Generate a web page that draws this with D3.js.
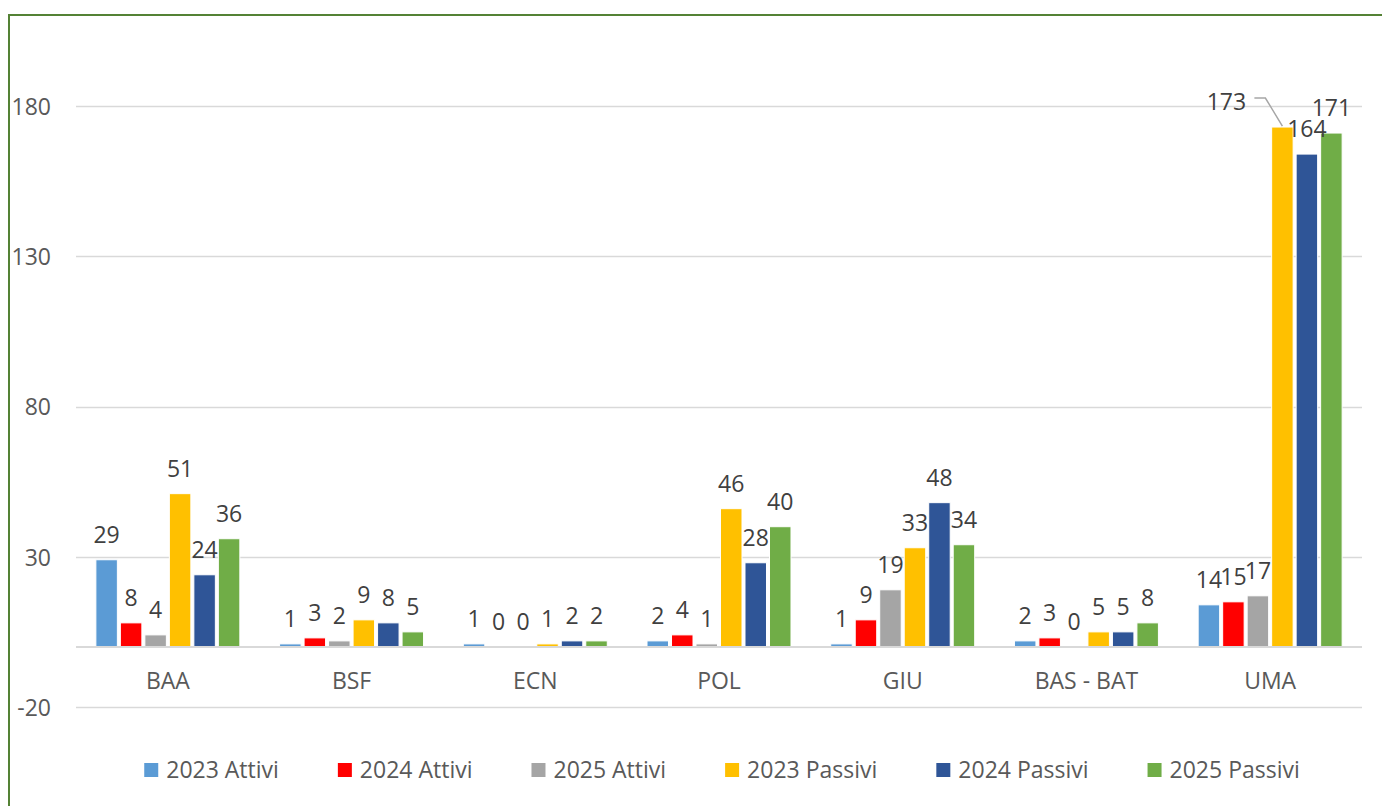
<!DOCTYPE html>
<html>
<head>
<meta charset="utf-8">
<script src="https://cdn.jsdelivr.net/npm/d3@7"></script>
<style>
  body { margin: 0; background: #fff; }
  text { font-family: "Open Sans", "Noto Sans", sans-serif; }
</style>
</head>
<body>
<div class="chart"></div>
<script>
//data
var categories = ["BAA", "BSF", "ECN", "POL", "GIU", "BAS - BAT", "UMA"];
var seriesNames = ["2023 Attivi", "2024 Attivi", "2025 Attivi", "2023 Passivi", "2024 Passivi", "2025 Passivi"];
var attivi2023 = [29, 1, 1, 2, 1, 2, 14];
var attivi2024 = [8, 3, 0, 4, 9, 3, 15];
var attivi2025 = [4, 2, 0, 1, 19, 0, 17];
var passivi2023 = [51, 9, 1, 46, 33, 5, 173];
var passivi2024 = [24, 8, 2, 28, 48, 5, 164];
var passivi2025 = [36, 5, 2, 40, 34, 8, 171];
var yTicks = [-20, 30, 80, 130, 180];

var seriesValues = [attivi2023, attivi2024, attivi2025, passivi2023, passivi2024, passivi2025];
var colors = ["#5B9BD5", "#FF0000", "#A5A5A5", "#FFC000", "#2F5597", "#70AD47"];

//set global variables
var width = 1382,
    height = 806,
    fontSize = "23px";

var svg = d3.select(".chart").append("svg")
            .attr("width", width)
            .attr("height", height);

//green frame (cut by the picture on the right and bottom)
svg.append("path")
   .attr("d", "M9,830 V15 H1400")
   .attr("fill", "none")
   .attr("stroke", "#548235")
   .attr("stroke-width", 2);

//scales
var x0 = d3.scaleBand()
           .domain(categories)
           .range([76, 1362])
           .paddingInner(0.2)
           .paddingOuter(0.1);

var x1 = d3.scaleBand()
           .domain(d3.range(seriesNames.length))
           .range([0, x0.bandwidth()])
           .padding(0);

var y = d3.scaleLinear()
          .domain([-20, 180])
          .range([707, 106]);

//gridlines
svg.append("g").selectAll("line")
   .data(yTicks)
   .enter()
   .append("line")
   .attr("x1", 76)
   .attr("x2", 1362)
   .attr("y1", d => Math.round(y(d)) + 0.5)
   .attr("y2", d => Math.round(y(d)) + 0.5)
   .attr("stroke", "#d9d9d9")
   .attr("stroke-width", 1.5);

//y axis labels
var yAxis = d3.axisLeft(y).tickValues(yTicks).tickSize(0).tickPadding(0)
              .tickFormat(d => String(d));
var yAxisGroup = svg.append("g")
                    .attr("transform", "translate(51,0)")
                    .call(yAxis);
yAxisGroup.select(".domain").remove();
yAxisGroup.selectAll("text")
          .attr("fill", "#595959")
          .style("font-size", fontSize)
          .attr("dy", "0.36em");

//bars
var bars = [];
categories.forEach(function(c, ci) {
  seriesValues.forEach(function(s, si) {
    bars.push({cat: c, si: si, value: s[ci]});
  });
});

var barW = x1.bandwidth();
svg.append("g").selectAll("rect")
   .data(bars)
   .enter()
   .append("rect")
   .attr("x", d => x0(d.cat) + x1(d.si) + 1.5)
   .attr("width", barW - 3)
   .attr("y", d => y(Math.max(0, d.value)))
   .attr("height", d => Math.abs(y(d.value) - y(0)))
   .attr("fill", d => colors[d.si])
   .attr("stroke", "#fff")
   .attr("stroke-width", 1);

//zero axis line
svg.append("line")
   .attr("x1", 76)
   .attr("x2", 1362)
   .attr("y1", y(0))
   .attr("y2", y(0))
   .attr("stroke", "#d9d9d9")
   .attr("stroke-width", 2);

//x axis labels
var xAxis = d3.axisBottom(x0).tickSize(0).tickPadding(0);
var xAxisGroup = svg.append("g")
                    .attr("transform", "translate(0,689)")
                    .call(xAxis);
xAxisGroup.select(".domain").remove();
xAxisGroup.selectAll("text")
          .attr("fill", "#595959")
          .attr("dy", 0)
          .attr("y", 0)
          .style("font-size", fontSize);

//data labels (the 2023 Passivi label of UMA is moved aside with a leader line)
function isMoved(d) { return d.cat === "UMA" && d.si === 3; }

svg.append("g").selectAll("text")
   .data(bars)
   .enter()
   .append("text")
   .attr("x", d => x0(d.cat) + x1(d.si) + barW / 2 + (isMoved(d) ? -56 : 0))
   .attr("y", d => y(Math.max(0, d.value)) - 17)
   .attr("text-anchor", "middle")
   .attr("fill", "#404040")
   .style("font-size", fontSize)
   .text(d => d.value);

bars.filter(isMoved).forEach(function(d) {
  var cx = x0(d.cat) + x1(d.si) + barW / 2,
      top = y(d.value);
  svg.append("polyline")
     .attr("points", [[cx - 28, top - 29], [cx - 17, top - 29], [cx, top - 1]].join(" "))
     .attr("fill", "none")
     .attr("stroke", "#a6a6a6")
     .attr("stroke-width", 1.5);
});

//legend, items placed one after the other and centred under the plot
var legend = svg.append("g");
var items = legend.selectAll("g")
                  .data(seriesNames)
                  .enter()
                  .append("g");
items.append("rect")
     .attr("y", 763)
     .attr("width", 14)
     .attr("height", 14)
     .attr("fill", (d, i) => colors[i]);
items.append("text")
     .attr("x", 22)
     .attr("y", 778)
     .attr("fill", "#595959")
     .style("font-size", fontSize)
     .text(d => d);

var pos = 0, starts = [];
items.each(function() {
  starts.push(pos);
  pos += 22 + d3.select(this).select("text").node().getComputedTextLength() + 59;
});
var total = pos - 59,
    left = 722 - total / 2;
items.attr("transform", (d, i) => "translate(" + (left + starts[i]) + ",0)");
</script>
</body>
</html>
